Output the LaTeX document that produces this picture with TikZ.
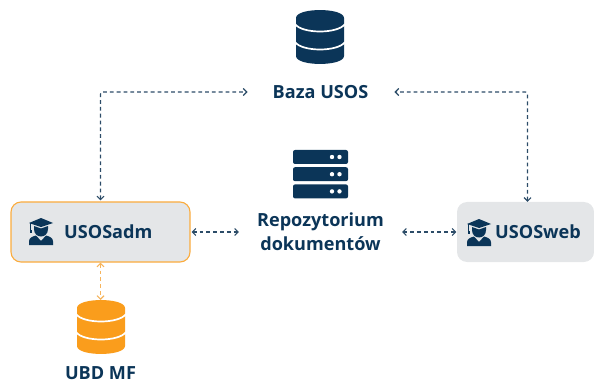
\documentclass[tikz,border=0pt]{standalone}
\usepackage{fontspec}
\setmainfont{Open Sans}
\usetikzlibrary{arrows.meta}
\definecolor{navy}{HTML}{0B3558}
\definecolor{linkc}{HTML}{2C4C68}
\definecolor{boxc}{HTML}{E4E6E8}
\definecolor{orangec}{HTML}{FA9D1C}
\definecolor{orangel}{HTML}{F6B45C}
\tikzset{
  x=1pt,y=-1pt,
  lab/.style={font=\bfseries\fontsize{18.1}{24}\selectfont,text=navy,inner sep=0pt,align=center},
  boxn/.style={rounded corners=10pt,fill=boxc,minimum height=60pt,inner sep=0pt},
  link/.style={draw=linkc,line width=1.1pt,dash pattern=on 3.8pt off 3pt,rounded corners=2pt,{Straight Barb[length=3.5pt,width=7pt,line width=1.1pt]}-{Straight Barb[length=3.5pt,width=7pt,line width=1.1pt]}},
  olink/.style={link,draw=orangel},
  pics/dbicon/.style={code={
    \fill[#1] (0,8) .. controls (0,-2.6) and (48,-2.6) .. (48,8) -- (48,46) .. controls (48,56.6) and (0,56.6) .. (0,46) -- cycle;
    \draw[white,line width=1.7pt] (-1,14) .. controls (6,24) and (42,24) .. (49,14);
    \draw[white,line width=1.7pt] (-1,32) .. controls (6,42) and (42,42) .. (49,32);
  }},
  pics/usericon/.style={code={
    \fill[navy] (0,5) -- (12,0) -- (24,5) -- (12,9) -- cycle;
    \fill[navy] (1,5) rectangle (2,13);
    \fill[navy] (0.5,12) rectangle (2.5,15);
    \fill[navy] (5,8) -- (12,10.5) -- (19,8) -- (19,11) .. controls (19,21) and (5,21) .. (5,11) -- cycle;
    \fill[navy] (0,27) -- (0,23.5) .. controls (0,20) and (3,18.5) .. (7,17.5) -- (12,23) -- (17,17.5) .. controls (21,18.5) and (24,20) .. (24,23.5) -- (24,27) -- cycle;
  }},
  pics/servericon/.style={code={
    \foreach \y in {0,17.2,34.4}{
      \fill[navy,rounded corners=2pt] (0,\y) rectangle (55,\y+14);
      \fill[white] (39,\y+7) circle (2.2pt) (46.5,\y+7) circle (2.2pt);
    }
  }}
}
\begin{document}
\begin{tikzpicture}
\useasboundingbox (0,0) rectangle (594,382);
\node[boxn,draw=orangec!85,line width=1.1pt,minimum width=179pt] (adm) at (100.5,232) {};
\node[boxn,minimum width=137pt] (web) at (525.5,232) {};
\node[lab,anchor=west] (admt) at (64,232) {USOSadm};
\node[lab,anchor=west] (webt) at (495,232) {USOSweb};
\node[lab] (baza) at (320.5,92) {Baza USOS};
\node[lab] (repo) at (320.5,232) {Repozytorium\\dokumentów};
\node[lab] (ubd) at (100.5,373) {UBD MF};
\pic at (296,10) {dbicon=navy};
\pic at (77,300) {dbicon=orangec};
\pic at (293,150) {servericon};
\pic at (29,218) {usericon};
\pic at (467,219) {usericon};
\draw[link] ([yshift=1pt]adm.north) |- ([xshift=-25pt]baza.west);
\draw[link] ([xshift=2pt]web.north) |- ([xshift=26pt]baza.east);
\draw[link] ([xshift=1pt]adm.east) -- ([xshift=-18pt]repo.west);
\draw[link] ([xshift=18pt]repo.east) -- ([xshift=-0.5pt]web.west);
\draw[olink] (adm.south) -- (100.5,300);
\end{tikzpicture}
\end{document}
